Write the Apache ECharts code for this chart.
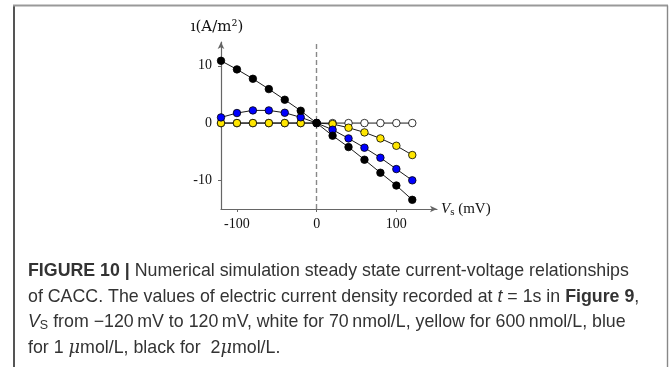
<!DOCTYPE html>
<html>
<head>
<meta charset="utf-8">
<script src="https://cdn.jsdelivr.net/npm/echarts@6/dist/echarts.min.js"></script>
<style>
html,body{margin:0;padding:0;background:#fff;}
#main{width:669px;height:367px;}
</style>
</head>
<body>
<div id="main"></div>
<script>
// Data
var voltages = [-120, -100, -80, -60, -40, -20, 0, 20, 40, 60, 80, 100, 120];
var white70nM = [0, 0, 0, 0, 0, 0, 0, 0, 0, 0, 0, 0, 0];
var yellow600nM = [0, 0, 0, 0, 0, 0, 0, -0.17, -0.81, -1.63, -2.68, -3.96, -5.58];
var blue1uM = [0.99, 1.75, 2.21, 2.21, 1.8, 1.0, 0, -1.16, -2.68, -4.3, -6.05, -8.03, -10.0];
var black2uM = [10.87, 9.37, 7.73, 5.93, 4.07, 2.15, 0, -2.2, -4.19, -6.4, -8.67, -10.9, -13.4];
var xTicks = [-100, 0, 100];
var yTicks = [-10, 0, 10];

var captionLines = [
  '{b|FIGURE 10 |} Numerical simulation steady state current-voltage relationships',
  'of CACC. The values of electric current density recorded at {i|t} = 1s in {b|Figure 9},',
  '{i|V}{sub|S} from \u2212120\u2009mV to 120\u2009mV, white for 70\u2009nmol/L, yellow for 600\u2009nmol/L, blue',
  'for 1 {mu|\u03bc}mol/L, black for  2{mu|\u03bc}mol/L.'
];

function pairs(ys) {
  return voltages.map(function (v, i) { return [v, ys[i]]; });
}

function mkSeries(name, ys, color, z, extra) {
  var s = {
    name: name,
    type: 'line',
    data: pairs(ys),
    symbol: 'circle',
    symbolSize: 7.5,
    z: z,
    lineStyle: { color: '#1a1a1a', width: 1 },
    itemStyle: { color: color, borderColor: '#000', borderWidth: 0.8 },
    emphasis: { disabled: true },
    animation: false
  };
  if (extra) { for (var k in extra) s[k] = extra[k]; }
  return s;
}

var chart = echarts.init(document.getElementById('main'), null, { renderer: 'canvas' });

var capSize = 17.8;
var capFont = '"Liberation Sans", Arial, sans-serif';
var capRich = {
  b: { fontWeight: 'bold', fontSize: capSize, fontFamily: capFont, color: '#222' },
  i: { fontStyle: 'italic', fontSize: capSize, fontFamily: capFont, color: '#333' },
  sub: { fontSize: 12.5, fontFamily: capFont, color: '#333', padding: [6, 0, 0, 0] },
  mu: { fontStyle: 'italic', fontSize: capSize, fontFamily: '"DejaVu Serif", serif', color: '#333' }
};
var capBase = [271, 297, 322.5, 348];
var graphics = [
  { type: 'line', shape: { x1: 14, y1: 5.5, x2: 14, y2: 367 }, style: { stroke: '#555', lineWidth: 2 } },
  { type: 'line', shape: { x1: 13, y1: 5.5, x2: 668, y2: 5.5 }, style: { stroke: '#999', lineWidth: 1.8 } },
  { type: 'line', shape: { x1: 667.5, y1: 5.5, x2: 667.5, y2: 367 }, style: { stroke: '#888', lineWidth: 1.4 } }
];
captionLines.forEach(function (t, i) {
  graphics.push({
    type: 'text',
    style: {
      x: 28, y: capBase[i],
      text: t,
      fontSize: capSize,
      fontFamily: capFont,
      fill: '#333',
      verticalAlign: 'middle',
      align: 'left',
      rich: capRich
    }
  });
});

var serif = '"Liberation Serif", "Times New Roman", serif';

chart.setOption({
  animation: false,
  backgroundColor: '#fff',
  grid: { left: 221, right: 232, top: 42, bottom: 158, containLabel: false },
  xAxis: {
    type: 'value',
    min: -120,
    max: 151,
    name: '{v|V}{s|s} (mV)',
    nameLocation: 'end',
    nameGap: 4,
    nameTextStyle: {
      fontFamily: serif, fontSize: 15, color: '#111', verticalAlign: 'middle',
      rich: {
        v: { fontFamily: serif, fontStyle: 'italic', fontSize: 15, color: '#111' },
        s: { fontFamily: serif, fontSize: 11, color: '#111', padding: [6, 0, 0, 0] }
      }
    },
    axisLine: { onZero: false, lineStyle: { color: '#666', width: 1.2 }, symbol: ['none', 'arrow'], symbolSize: [5, 7], symbolOffset: [0, 0] },
    axisTick: { show: true, customValues: xTicks, length: 3, lineStyle: { color: '#666', width: 1 } },
    axisLabel: { customValues: xTicks, margin: 8, fontFamily: serif, fontSize: 14, color: '#111',
      formatter: function (v) { return String(v); } },
    splitLine: { show: false }
  },
  yAxis: {
    type: 'value',
    min: -15,
    max: 14.15,
    name: '\u0131(A/m\u00b2)',
    nameLocation: 'end',
    nameGap: 7,
    nameTextStyle: { fontFamily: '"DejaVu Serif", serif', fontSize: 15, color: '#111', padding: [0, 8, 0, 0] },
    axisLine: { onZero: false, lineStyle: { color: '#666', width: 1.2 }, symbol: ['none', 'arrow'], symbolSize: [5, 7] },
    axisTick: { show: true, customValues: yTicks, length: 3, lineStyle: { color: '#666', width: 1 } },
    axisLabel: { customValues: yTicks, margin: 9, fontFamily: serif, fontSize: 14, color: '#111' },
    splitLine: { show: false }
  },
  series: [
    mkSeries('70 nmol/L', white70nM, '#ffffff', 2, {
      markLine: {
        silent: true, symbol: ['none', 'none'], label: { show: false },
        lineStyle: { color: '#888', type: [5, 3], width: 1.4 },
        data: [{ xAxis: 0 }],
        z: 1
      }
    }),
    mkSeries('600 nmol/L', yellow600nM, '#ffe600', 3),
    mkSeries('1 \u03bcmol/L', blue1uM, '#0000ff', 4),
    mkSeries('2 \u03bcmol/L', black2uM, '#000000', 5)
  ],
  graphic: graphics
});
</script>
</body>
</html>
